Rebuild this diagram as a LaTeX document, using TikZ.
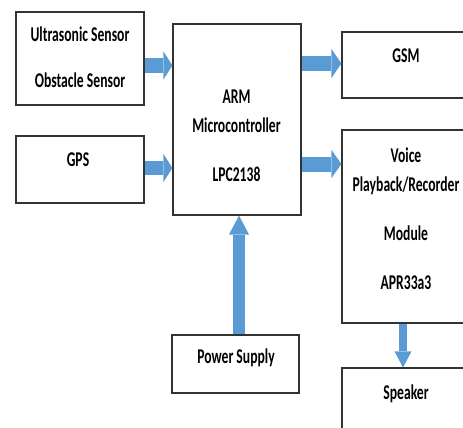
\documentclass[tikz,border=0pt]{standalone}
\usepackage{fontspec}
\setmainfont[FakeStretch=0.65]{Carlito}
\usetikzlibrary{arrows.meta}

\definecolor{flowblue}{RGB}{91,155,213}

\begin{document}
\begin{tikzpicture}[
		x=1pt, y=-1pt,
		box/.style={draw=black!80, line width=1.1pt, minimum width=128pt, inner sep=0pt},
		txt/.style={anchor=base, inner sep=0pt, font=\fontsize{21}{24}\selectfont\bfseries},
		flow/.style={flowblue, line width=15pt, -{Triangle[length=9pt, width=28pt, line width=0pt]}},
	]
	\useasboundingbox (0,0) rectangle (463,428);
	\clip (0,0) rectangle (463,428);
	% blocks
	\node[box, minimum height=93pt]  (sensors) at (80,58.5)   {};
	\node[box, minimum height=67pt]  (gps)     at (80,169.5)  {};
	\node[box, minimum height=191pt] (arm)     at (237,119.5) {};
	\node[box, minimum height=66pt]  (gsm)     at (406,65)    {};
	\node[box, minimum height=193pt] (voice)   at (406,226.5) {};
	\node[box, minimum width=127pt, minimum height=58pt] (power) at (235.5,364) {};
	\node[box, minimum height=80pt]  (speaker) at (406,408)   {};
	% labels
	\node[txt] (ultra)    at (80,41.5)   {Ultrasonic Sensor};
	\node[txt] (obstacle) at (80,87)     {Obstacle Sensor};
	\node[txt] (gpstext)  at (78,166.5)  {GPS};
	\node[txt] (armtext)  at (236.5,103.5) {ARM};
	\node[txt] (mcu)      at (236.5,132.5) {Microcontroller};
	\node[txt] (lpc)      at (236.5,181)   {LPC2138};
	\node[txt] (gsmtext)  at (406,62.5)  {GSM};
	\node[txt] (voicetxt) at (406,162)   {Voice};
	\node[txt] (playback) at (406,191.5) {Playback/Recorder};
	\node[txt] (module)   at (406,240.5) {Module};
	\node[txt] (apr)      at (406,289)   {APR33a3};
	\node[txt] (powertxt) at (236,363)   {Power Supply};
	\node[txt] (spktext)  at (406,399)   {Speaker};
	% arrows
	\coordinate (row1) at (0,65.5);
	\coordinate (row2) at (0,168);
	\coordinate (row3) at (0,63.5);
	\coordinate (row4) at (0,164);
	\coordinate (col1) at (239,0);
	\coordinate (col2) at (403,0);
	\draw[flow] (sensors.east |- row1) -- (arm.west |- row1);
	\draw[flow, line width=14pt] (gps.east |- row2) -- (arm.west |- row2);
	\draw[flow, -{Triangle[length=10pt, width=29pt, line width=0pt]}] (arm.east |- row3) -- (gsm.west |- row3);
	\draw[flow, -{Triangle[length=10pt, width=28pt, line width=0pt]}] (arm.east |- row4) -- (voice.west |- row4);
	\draw[flow, line width=12pt, -{Triangle[length=19pt, width=20pt, line width=0pt]}] (power.north -| col1) -- (arm.south -| col1);
	\draw[flow, line width=8pt, -{Triangle[length=16pt, width=17pt, line width=0pt]}] (voice.south -| col2) -- (speaker.north -| col2);
\end{tikzpicture}
\end{document}
